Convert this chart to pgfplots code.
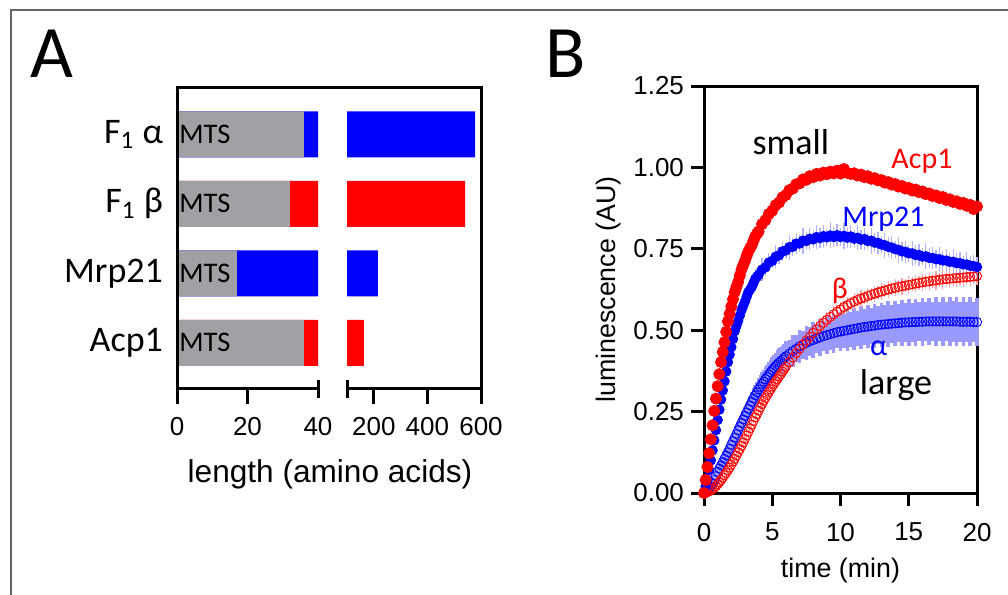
\documentclass[border=0pt]{standalone}
\usepackage{pgfplots}
\pgfplotsset{compat=1.18}
\usepackage{pgfplotstable}
\usepackage{fontspec}
\setmainfont{Liberation Sans}
\newfontfamily\calibri{Carlito}

\definecolor{mtsgray}{RGB}{160,160,165}
\definecolor{pblue}{RGB}{0,0,255}
\definecolor{pred}{RGB}{255,0,0}

% panel B: time (min), luminescence (AU), error
\pgfplotstableread{
t v e
0 0.000 0.005
0.125 0.040 0.008
0.25 0.080 0.010
0.375 0.122 0.010
0.5 0.165 0.012
0.625 0.208 0.012
0.75 0.252 0.010
0.875 0.290 0.012
1 0.328 0.015
1.125 0.365 0.013
1.25 0.402 0.012
1.375 0.433 0.012
1.5 0.463 0.010
1.625 0.495 0.012
1.75 0.527 0.014
1.875 0.550 0.013
2 0.573 0.012
2.125 0.595 0.012
2.25 0.617 0.010
2.375 0.633 0.012
2.5 0.648 0.015
2.625 0.668 0.013
2.75 0.687 0.012
2.875 0.700 0.012
3 0.713 0.010
3.125 0.728 0.012
3.25 0.742 0.016
3.375 0.752 0.014
3.5 0.761 0.012
3.625 0.775 0.012
3.75 0.788 0.010
3.875 0.796 0.012
4 0.803 0.014
4.25 0.826 0.012
4.5 0.838 0.018
4.75 0.857 0.010
5 0.867 0.014
5.25 0.884 0.012
5.5 0.892 0.016
5.75 0.908 0.010
6 0.915 0.015
6.25 0.930 0.012
6.5 0.935 0.018
6.75 0.948 0.010
7 0.951 0.014
7.25 0.963 0.020
7.5 0.962 0.012
7.75 0.973 0.016
8 0.970 0.010
8.25 0.980 0.015
8.5 0.975 0.018
8.75 0.984 0.012
9 0.979 0.016
9.25 0.987 0.010
9.5 0.982 0.020
9.75 0.990 0.012
10 0.981 0.016
10.25 0.995 0.014
10.5 0.983 0.018
10.75 0.980 0.012
11 0.982 0.015
11.25 0.975 0.010
11.5 0.978 0.017
11.75 0.970 0.012
12 0.973 0.015
12.25 0.965 0.010
12.5 0.967 0.018
12.75 0.960 0.012
13 0.961 0.015
13.25 0.953 0.010
13.5 0.955 0.016
13.75 0.947 0.012
14 0.949 0.018
14.25 0.941 0.010
14.5 0.943 0.015
14.75 0.935 0.012
15 0.937 0.016
15.25 0.929 0.010
15.5 0.932 0.018
15.75 0.924 0.012
16 0.926 0.015
16.25 0.918 0.010
16.5 0.920 0.016
16.75 0.912 0.012
17 0.914 0.018
17.25 0.906 0.010
17.5 0.909 0.015
17.75 0.900 0.012
18 0.902 0.020
18.25 0.894 0.010
18.5 0.896 0.016
18.75 0.888 0.012
19 0.891 0.015
19.25 0.882 0.010
19.5 0.885 0.017
19.75 0.872 0.012
20 0.880 0.015
}\acpdata

\pgfplotstableread{
t v e
0 0.000 0.005
0.125 0.020 0.008
0.25 0.040 0.010
0.375 0.070 0.012
0.5 0.100 0.015
0.625 0.131 0.018
0.75 0.162 0.020
0.875 0.193 0.020
1 0.224 0.018
1.125 0.256 0.020
1.25 0.287 0.022
1.375 0.315 0.021
1.5 0.343 0.020
1.625 0.373 0.022
1.75 0.402 0.025
1.875 0.425 0.022
2 0.448 0.020
2.125 0.473 0.025
2.25 0.497 0.030
2.375 0.513 0.026
2.5 0.528 0.022
2.625 0.545 0.025
2.75 0.562 0.028
2.875 0.575 0.024
3 0.588 0.020
3.125 0.603 0.026
3.25 0.617 0.032
3.375 0.625 0.028
3.5 0.633 0.024
3.625 0.645 0.027
3.75 0.657 0.030
3.875 0.664 0.026
4 0.670 0.022
4.25 0.686 0.035
4.5 0.693 0.025
4.75 0.708 0.030
5 0.713 0.022
5.25 0.726 0.036
5.5 0.730 0.026
5.75 0.742 0.030
6 0.745 0.024
6.25 0.755 0.038
6.5 0.756 0.028
6.75 0.766 0.032
7 0.766 0.025
7.25 0.775 0.040
7.5 0.774 0.028
7.75 0.781 0.034
8 0.779 0.026
8.25 0.786 0.038
8.5 0.783 0.030
8.75 0.789 0.035
9 0.785 0.026
9.25 0.791 0.040
9.5 0.786 0.030
9.75 0.792 0.034
10 0.786 0.027
10.25 0.790 0.040
10.5 0.784 0.030
10.75 0.788 0.035
11 0.781 0.026
11.25 0.784 0.038
11.5 0.778 0.030
11.75 0.780 0.034
12 0.774 0.026
12.25 0.775 0.040
12.5 0.769 0.030
12.75 0.768 0.034
13 0.763 0.026
13.25 0.761 0.038
13.5 0.756 0.030
13.75 0.754 0.035
14 0.749 0.026
14.25 0.747 0.040
14.5 0.742 0.030
14.75 0.741 0.034
15 0.736 0.027
15.25 0.736 0.038
15.5 0.731 0.030
15.75 0.731 0.035
16 0.726 0.026
16.25 0.727 0.040
16.5 0.722 0.030
16.75 0.722 0.034
17 0.718 0.027
17.25 0.718 0.038
17.5 0.714 0.030
17.75 0.714 0.035
18 0.710 0.026
18.25 0.710 0.040
18.5 0.706 0.030
18.75 0.706 0.034
19 0.702 0.027
19.25 0.702 0.038
19.5 0.698 0.030
19.75 0.697 0.035
20 0.694 0.030
}\mrpdata

\pgfplotstableread{
t v e
0 0.000 0.003
0.125 0.001 0.004
0.25 0.003 0.005
0.375 0.005 0.005
0.5 0.008 0.006
0.625 0.012 0.007
0.75 0.016 0.008
0.875 0.021 0.009
1 0.027 0.010
1.125 0.033 0.010
1.25 0.040 0.010
1.375 0.047 0.011
1.5 0.055 0.012
1.625 0.062 0.012
1.75 0.070 0.012
1.875 0.078 0.013
2 0.087 0.014
2.125 0.096 0.013
2.25 0.105 0.012
2.375 0.115 0.014
2.5 0.125 0.015
2.625 0.135 0.014
2.75 0.145 0.013
2.875 0.155 0.015
3 0.166 0.016
3.125 0.177 0.015
3.25 0.188 0.014
3.375 0.199 0.016
3.5 0.210 0.017
3.625 0.221 0.016
3.75 0.232 0.014
3.875 0.242 0.016
4 0.253 0.018
4.125 0.263 0.017
4.25 0.273 0.015
4.375 0.283 0.017
4.5 0.292 0.018
4.625 0.301 0.017
4.75 0.310 0.015
4.875 0.318 0.017
5 0.327 0.019
5.125 0.335 0.018
5.25 0.343 0.016
5.375 0.350 0.018
5.5 0.358 0.020
5.625 0.365 0.018
5.75 0.373 0.016
5.875 0.380 0.018
6 0.388 0.020
6.25 0.402 0.017
6.5 0.416 0.021
6.75 0.430 0.017
7 0.443 0.021
7.25 0.456 0.018
7.5 0.468 0.022
7.75 0.480 0.018
8 0.492 0.022
8.25 0.503 0.018
8.5 0.513 0.023
8.75 0.523 0.019
9 0.532 0.023
9.25 0.541 0.019
9.5 0.549 0.024
9.75 0.557 0.019
10 0.564 0.024
10.25 0.571 0.020
10.5 0.577 0.024
10.75 0.583 0.020
11 0.588 0.025
11.25 0.593 0.020
11.5 0.597 0.025
11.75 0.601 0.020
12 0.605 0.025
12.25 0.609 0.020
12.5 0.612 0.025
12.75 0.616 0.020
13 0.619 0.026
13.25 0.622 0.020
13.5 0.625 0.026
13.75 0.628 0.021
14 0.630 0.026
14.25 0.633 0.021
14.5 0.635 0.026
14.75 0.637 0.021
15 0.639 0.027
15.25 0.641 0.021
15.5 0.643 0.027
15.75 0.645 0.021
16 0.647 0.027
16.25 0.649 0.022
16.5 0.650 0.027
16.75 0.652 0.022
17 0.653 0.028
17.25 0.655 0.022
17.5 0.656 0.028
17.75 0.657 0.022
18 0.658 0.028
18.25 0.659 0.022
18.5 0.660 0.028
18.75 0.661 0.022
19 0.662 0.028
19.25 0.663 0.022
19.5 0.664 0.028
19.75 0.665 0.022
20 0.666 0.028
}\betadata

\pgfplotstableread{
t v e
0 0.000 0.003
0.125 0.004 0.004
0.25 0.008 0.005
0.375 0.014 0.006
0.5 0.020 0.008
0.625 0.030 0.009
0.75 0.040 0.010
0.875 0.052 0.011
1 0.065 0.012
1.125 0.075 0.013
1.25 0.085 0.014
1.375 0.095 0.015
1.5 0.105 0.016
1.625 0.115 0.017
1.75 0.125 0.018
1.875 0.136 0.019
2 0.148 0.020
2.125 0.159 0.021
2.25 0.170 0.022
2.375 0.181 0.023
2.5 0.193 0.024
2.625 0.204 0.025
2.75 0.215 0.026
2.875 0.226 0.027
3 0.237 0.028
3.125 0.247 0.029
3.25 0.258 0.030
3.375 0.269 0.030
3.5 0.280 0.031
3.625 0.290 0.032
3.75 0.300 0.033
3.875 0.309 0.033
4 0.318 0.034
4.125 0.326 0.035
4.25 0.335 0.036
4.375 0.342 0.036
4.5 0.350 0.037
4.625 0.357 0.037
4.75 0.364 0.038
4.875 0.371 0.039
5 0.378 0.040
5.125 0.384 0.040
5.25 0.390 0.041
5.375 0.395 0.043
5.5 0.400 0.045
5.625 0.405 0.042
5.75 0.410 0.040
5.875 0.415 0.043
6 0.420 0.046
6.25 0.428 0.041
6.5 0.436 0.048
6.75 0.443 0.042
7 0.450 0.050
7.25 0.456 0.043
7.5 0.461 0.052
7.75 0.466 0.044
8 0.470 0.054
8.25 0.474 0.045
8.5 0.478 0.056
8.75 0.482 0.047
9 0.485 0.058
9.25 0.488 0.048
9.5 0.491 0.060
9.75 0.494 0.050
10 0.496 0.061
10.25 0.498 0.052
10.5 0.500 0.063
10.75 0.502 0.053
11 0.504 0.064
11.25 0.506 0.054
11.5 0.508 0.066
11.75 0.510 0.055
12 0.511 0.066
12.25 0.513 0.056
12.5 0.514 0.068
12.75 0.516 0.057
13 0.517 0.068
13.25 0.518 0.058
13.5 0.519 0.070
13.75 0.520 0.058
14 0.521 0.070
14.25 0.522 0.059
14.5 0.523 0.071
14.75 0.524 0.060
15 0.524 0.072
15.25 0.525 0.060
15.5 0.525 0.072
15.75 0.526 0.060
16 0.526 0.073
16.25 0.527 0.060
16.5 0.527 0.073
16.75 0.527 0.061
17 0.527 0.074
17.25 0.527 0.061
17.5 0.527 0.074
17.75 0.527 0.061
18 0.527 0.074
18.25 0.527 0.062
18.5 0.527 0.075
18.75 0.526 0.062
19 0.526 0.075
19.25 0.526 0.062
19.5 0.526 0.075
19.75 0.525 0.062
20 0.525 0.074
}\alphadata

\begin{document}
\begin{tikzpicture}
\useasboundingbox (0,0) rectangle (504pt,-297.5pt);

% ---------- panel A, left part of the broken axis (0--40)
\begin{axis}[
	at={(88.5pt,-194pt)}, anchor=south west,
	scale only axis, width=70.5pt, height=150.5pt,
	xmin=0, xmax=40, ymin=-0.65, ymax=3.68,
	axis line style={draw=none}, major tick style={draw=none},
	xtick={0,20,40}, ytick={0,1,2,3},
	yticklabels={Acp1,Mrp21,F\textsubscript{1} β,F\textsubscript{1} α},
	/pgf/number format/assume math mode=true,
	xticklabel style={font=\fontsize{13}{15}\selectfont, yshift=-11pt},
	yticklabel style={font=\calibri\fontsize{18}{20}\selectfont, xshift=-3.5pt},
]
\addplot[xbar, bar width=0.662, bar shift=0pt, fill=pblue, draw=none] coordinates {(578,3) (215,1)};
\addplot[xbar, bar width=0.662, bar shift=0pt, fill=pred, draw=none] coordinates {(541,2) (163,0)};
\addplot[xbar, bar width=0.662, bar shift=0pt, fill=mtsgray, draw=none] coordinates {(36,3) (32,2) (17,1) (36,0)};
\node[anchor=west, inner sep=1pt, font=\calibri\fontsize{14.2}{15}\selectfont] at (axis cs:0,3) {MTS};
\node[anchor=west, inner sep=1pt, font=\calibri\fontsize{14.2}{15}\selectfont] at (axis cs:0,2) {MTS};
\node[anchor=west, inner sep=1pt, font=\calibri\fontsize{14.2}{15}\selectfont] at (axis cs:0,1) {MTS};
\node[anchor=west, inner sep=1pt, font=\calibri\fontsize{14.2}{15}\selectfont] at (axis cs:0,0) {MTS};
\end{axis}

% ---------- panel A, right part of the broken axis (100--600)
\begin{axis}[
	at={(173.5pt,-194pt)}, anchor=south west,
	scale only axis, width=67pt, height=150.5pt,
	xmin=100, xmax=600, ymin=-0.65, ymax=3.68,
	axis line style={draw=none}, major tick style={draw=none},
	xtick={200,400,600}, ytick=\empty,
	/pgf/number format/assume math mode=true,
	xticklabel style={font=\fontsize{13}{15}\selectfont, yshift=-11pt},
]
\addplot[xbar, bar width=0.662, bar shift=0pt, fill=pblue, draw=none] coordinates {(578,3) (215,1)};
\addplot[xbar, bar width=0.662, bar shift=0pt, fill=pred, draw=none] coordinates {(541,2) (163,0)};
\end{axis}

% ---------- panel B
\begin{axis}[
	at={(352pt,-246.5pt)}, anchor=south west,
	scale only axis, width=136.5pt, height=203.5pt,
	xmin=0, xmax=20, ymin=0, ymax=1.25,
	xtick={0,5,10,15,20}, ytick={0,0.25,0.5,0.75,1,1.25},
	axis line style={line width=1.5pt},
	major tick style={line width=1.5pt, black},
	tick align=outside, tick pos=left, major tick length=6.5pt,
	/pgf/number format/assume math mode=true,
	yticklabel style={/pgf/number format/.cd, fixed, fixed zerofill, precision=2},
	ticklabel style={font=\fontsize{13}{15}\selectfont},
	xticklabel style={yshift=-5pt},
	xlabel={time (min)}, ylabel={luminescence (AU)},
	every axis x label/.style={at={(axis description cs:0.5,-0.19)}, anchor=center,
		font=\fontsize{13.4}{15}\selectfont},
	every axis y label/.style={at={(axis description cs:-0.35,0.5)}, rotate=90, anchor=center,
		font=\fontsize{13.4}{15}\selectfont},
	clip=false,
]
\addplot[only marks, mark=o, mark size=2.3pt, color=pblue, mark options={line width=0.45pt},
	error bars/.cd, y dir=both, y explicit, error mark=none,
	error bar style={line width=1.8pt, color=pblue!40}]
	table[x=t, y=v, y error=e] {\alphadata};
\addplot[only marks, mark=o, mark size=2.3pt, color=pred, mark options={line width=0.45pt},
	error bars/.cd, y dir=both, y explicit, error mark=none,
	error bar style={line width=0.6pt, color=pred!35}]
	table[x=t, y=v, y error=e] {\betadata};
\addplot[only marks, mark=*, mark size=2.4pt, color=pblue,
	error bars/.cd, y dir=both, y explicit, error mark=none,
	error bar style={line width=0.6pt, color=pblue!30}]
	table[x=t, y=v, y error=e] {\mrpdata};
\addplot[only marks, mark=*, mark size=2.8pt, color=pred,
	error bars/.cd, y dir=both, y explicit, error mark=none,
	error bar style={line width=0.6pt, color=pred!35}]
	table[x=t, y=v, y error=e] {\acpdata};
\node[anchor=base, font=\calibri\fontsize{18}{20}\selectfont] at (axis cs:6.37,1.041) {small};
\node[anchor=base, text=pred, font=\calibri\fontsize{15}{16}\selectfont] at (axis cs:15.97,0.998) {Acp1};
\node[anchor=base, text=pblue, font=\calibri\fontsize{15}{16}\selectfont] at (axis cs:13.15,0.817) {Mrp21};
\node[text=pred, font=\calibri\fontsize{15}{16}\selectfont] at (axis cs:9.96,0.62) {β};
\node[text=pblue, font=\calibri\fontsize{15}{16}\selectfont] at (axis cs:12.8,0.445) {α};
\node[anchor=base, font=\calibri\fontsize{18}{20}\selectfont] at (axis cs:14.07,0.301) {large};
\end{axis}

% ---------- frame, broken-axis lines and panel letters (pixel units)
\begin{scope}[x=0.5pt, y=-0.5pt]
\draw[line width=0.6pt, black!60] (11,600) -- (11,10) -- (1010,10);
\begin{scope}[line width=1.5pt]
\draw[line join=miter] (177,404) -- (177,87) -- (481,87) -- (481,404);
\draw (177,388) -- (318,388);
\draw (347,388) -- (481,388);
\draw (247.5,388) -- (247.5,404);
\draw (373.8,388) -- (373.8,404);
\draw (427.4,388) -- (427.4,404);
\draw (318,380) -- (318,398);
\draw (347,380) -- (347,398);
\end{scope}
\node[font=\fontsize{15.8}{18}\selectfont] at (330,474) {length (amino acids)};
\node[anchor=base west, inner sep=0pt, font=\calibri\fontsize{37}{40}\selectfont] at (30,77) {A};
\node[anchor=base west, inner sep=0pt, font=\calibri\fontsize{37}{40}\selectfont] at (545,77) {B};
\end{scope}
\end{tikzpicture}
\end{document}
